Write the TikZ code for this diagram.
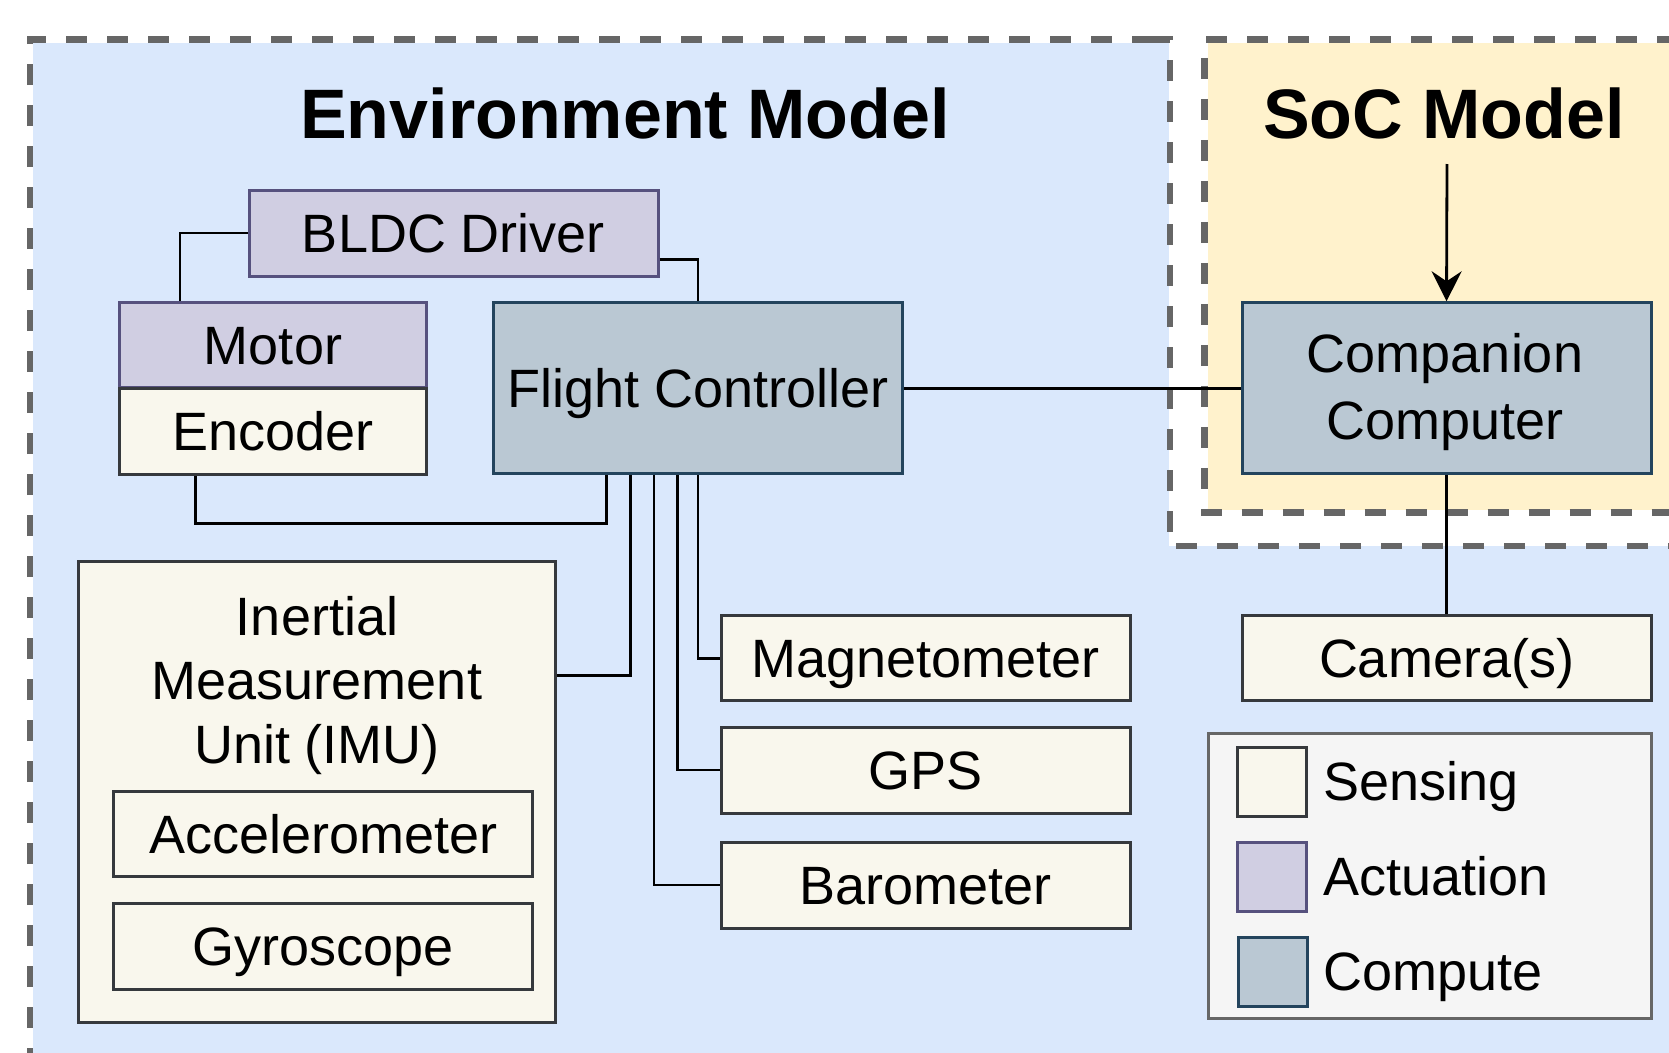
\documentclass[tikz,border=0pt]{standalone}
\usepackage{fontspec}
\setmainfont{Liberation Sans}
\usetikzlibrary{arrows.meta,calc}
\definecolor{envfill}{HTML}{DAE8FC}
\definecolor{socfill}{HTML}{FFF2CC}
\definecolor{dashgray}{HTML}{666666}
\definecolor{actfill}{HTML}{D0CEE2}
\definecolor{actdraw}{HTML}{56517E}
\definecolor{sensfill}{HTML}{F9F7ED}
\definecolor{sensdraw}{HTML}{36393D}
\definecolor{compfill}{HTML}{BAC8D3}
\definecolor{compdraw}{HTML}{23445D}
\definecolor{legfill}{HTML}{F5F5F5}
\definecolor{legdraw}{HTML}{666666}
\tikzset{
  txt/.style={font=\fontsize{54}{64}\selectfont, inner sep=0pt},
  titletxt/.style={font=\bfseries\fontsize{70}{84}\selectfont, inner sep=0pt},
  box/.style={draw, line width=3pt, inner sep=0pt, font=\fontsize{54}{64}\selectfont,
              text height=38.7pt, text depth=0pt, align=center},
  sensbox/.style={box, fill=sensfill, draw=sensdraw},
  actbox/.style={box, fill=actfill, draw=actdraw},
  compbox/.style={box, fill=compfill, draw=compdraw},
  legbox/.style={draw=legdraw, fill=legfill, line width=3pt, inner sep=0pt},
  conn/.style={draw=black, line width=2.8pt},
  dashborder/.style={draw=dashgray, line width=6.5pt, dash pattern=on 21pt off 20pt},
  legtxt/.style={txt, text height=38.7pt, text depth=0pt, anchor=west},
}
\begin{document}
\begin{tikzpicture}[x=1pt,y=-1pt]
\useasboundingbox (0,0) rectangle (1669,1052);
\clip (0,0) rectangle (1669,1052);
% Environment model region
\fill[envfill] (33.3,42.5) rectangle (1760,1110);
\draw[dashborder] (30,1110) -- (30,39.3) -- (1760,39.3);
% white outer box round the SoC model
\fill[white] (1169,30) rectangle (1760,546);
\draw[dashborder] (1150,39.3) -- (1170,39.3) -- (1170,546) -- (1760,546);
% SoC model region
\fill[socfill] (1208,42.5) rectangle (1760,509.5);
\draw[dashborder] (1760,39.3) -- (1204.5,39.3) -- (1204.5,512.7) -- (1760,512.7);
% titles
\node[titletxt, anchor=base] (envtitle) at (625,138) {Environment Model};
\node[titletxt, anchor=base] (soctitle) at (1444,138.6) {SoC Model};
% boxes
\node[actbox, minimum width=409pt, minimum height=86pt] (bldc) at (453.5,233) {BLDC Driver};
\node[actbox, minimum width=307pt, minimum height=85pt] (motor) at (273,345) {Motor};
\node[sensbox, minimum width=307pt, minimum height=86pt] (encoder) at (273,431) {Encoder};
\node[compbox, minimum width=409pt, minimum height=171pt] (fc) at (698,388.3) {Flight Controller};
\node[compbox, minimum width=409pt, minimum height=171pt] (cc) at (1446.5,388.3) {};
\node[txt, anchor=base] (cc1) at (1445,372) {Companion};
\node[txt, anchor=base] (cc2) at (1445,439.5) {Computer};
\node[sensbox, minimum width=409pt, minimum height=85pt] (camera) at (1446.5,658.3) {Camera(s)};
\node[sensbox, minimum width=409pt, minimum height=85pt] (mag) at (925.5,658.3) {Magnetometer};
\node[sensbox, minimum width=409pt, minimum height=86pt] (gps) at (925.5,770) {GPS};
\node[sensbox, minimum width=409pt, minimum height=86pt] (baro) at (925.5,885) {Barometer};
\node[sensbox, minimum width=477.6pt, minimum height=461.7pt] (imu) at (317,791.9) {};
\node[txt, anchor=base] (imu1) at (317,635) {Inertial};
\node[txt, anchor=base] (imu2) at (317,699) {Measurement};
\node[txt, anchor=base] (imu3) at (317,763) {Unit (IMU)};
\node[sensbox, minimum width=418.8pt, minimum height=85pt] (acc) at (323.2,834) {Accelerometer};
\node[sensbox, minimum width=418.8pt, minimum height=86pt] (gyro) at (323.2,946) {Gyroscope};
% legend
\node[legbox, minimum width=443pt, minimum height=285.3pt] (legend) at (1429.5,876.3) {};
\node[sensbox, minimum width=69pt, minimum height=69pt] (sw1) at (1271.5,781.5) {};
\node[actbox, minimum width=69pt, minimum height=69pt] (sw2) at (1272,876.5) {};
\node[compbox, minimum width=69pt, minimum height=69pt] (sw3) at (1272.5,971.5) {};
\node[legtxt] (lg1) at (1323,781.5) {Sensing};
\node[legtxt] (lg2) at (1323,876.5) {Actuation};
\node[legtxt] (lg3) at (1323,971.5) {Compute};
% connector helper coordinates
\coordinate (encbend) at (606.3,523.7);
\coordinate (ximu) at (630.3,0);
\coordinate (xbaro) at (654,0);
\coordinate (xgps) at (677.7,0);
\coordinate (socsrc) at (1447,164);
% connectors
\draw[conn] (bldc.west) -| ($(motor.north west)!0.2!(motor.north east)$);
\draw[conn] ($(bldc.north east)!0.8!(bldc.south east)$) -| (fc.north);
\draw[conn] ($(encoder.south west)!0.25!(encoder.south east)$) |- (encbend) -- (encbend |- fc.south);
\draw[conn] ($(imu.north east)!0.25!(imu.south east)$) -| (ximu |- fc.south);
\draw[conn] (baro.west) -| (xbaro |- fc.south);
\draw[conn] (gps.west) -| (xgps |- fc.south);
\draw[conn] (mag.west) -| (fc.south);
\draw[conn] (fc.east) -- (cc.west);
\draw[conn] (cc.south) -- (camera.north);
\draw[conn, -{Stealth[length=30pt, width=30pt, inset=10pt]}] (socsrc) -- (cc.north);
\end{tikzpicture}
\end{document}
